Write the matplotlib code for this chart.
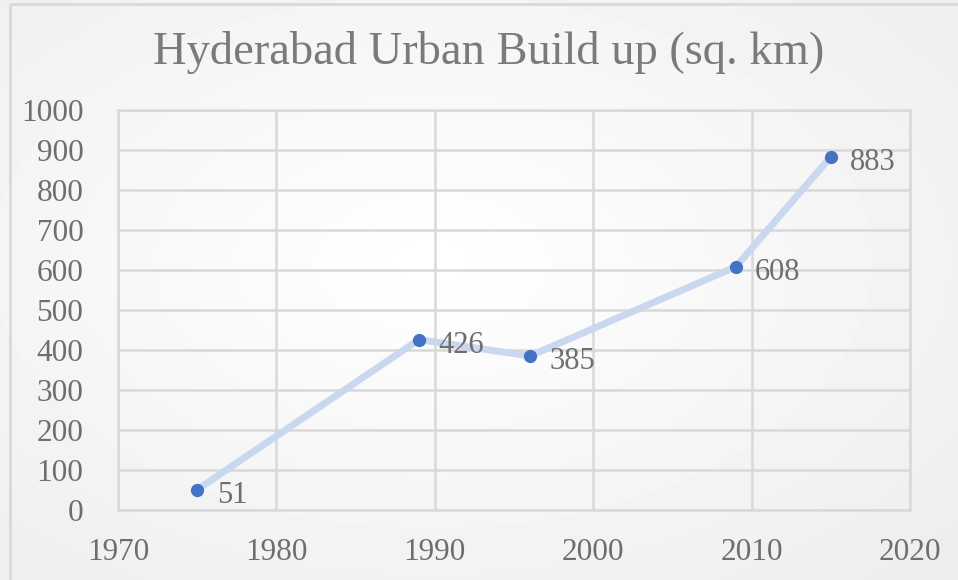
import numpy as np
import matplotlib
matplotlib.use("Agg")
import matplotlib.pyplot as plt
from matplotlib.patches import Rectangle

years = [1975, 1989, 1996, 2009, 2015]
area = [51, 426, 385, 608, 883]
title = "Hyderabad Urban Build up (sq. km)"
xticks = [1970, 1980, 1990, 2000, 2010, 2020]
yticks = list(range(0, 1001, 100))

W, H = 958, 580
fig = plt.figure(figsize=(W / 100, H / 100), dpi=100)
plt.rcParams['font.family'] = ['Liberation Serif', 'DejaVu Serif']

# radial gradient background
bg = fig.add_axes([0, 0, 1, 1], zorder=-10)
yy, xx = np.mgrid[0:H, 0:W]
cx, cy = W * 0.45, H * 0.45
r = np.sqrt(((xx - cx) / (W * 0.75)) ** 2 + ((yy - cy) / (H * 0.75)) ** 2)
val = 1.0 - 0.07 * np.clip(r, 0, 1)
bg.imshow(val, cmap='gray', vmin=0, vmax=1, aspect='auto', extent=[0, W, H, 0])
bg.set_xlim(0, W)
bg.set_ylim(H, 0)
bg.axis('off')
bg.add_patch(Rectangle((10, 4), W, H, fill=False, edgecolor='#d9d9d9', lw=2))

ax = fig.add_axes([118 / W, 1 - 510 / H, (910 - 118) / W, (510 - 110) / H])
ax.patch.set_alpha(0)
ax.set_xlim(1970, 2020)
ax.set_ylim(0, 1000)
ax.set_xticks(xticks)
ax.set_yticks(yticks)
ax.grid(True, color='#d9d9d9', lw=1.8)
ax.set_axisbelow(True)
for s in ax.spines.values():
    s.set_color('#d9d9d9')
    s.set_linewidth(1.8)
ax.tick_params(length=0, labelsize=22.5, labelcolor='#6e6e6e')
ax.tick_params(axis='y', pad=25)
ax.tick_params(axis='x', pad=20)

ax.plot(years, area, color='#c9d7ef', lw=5, solid_capstyle='round', zorder=2)
ax.plot(years, area, 'o', color='#4472c4', ms=8.5, zorder=3)
for x, y in zip(years, area):
    ax.annotate(str(y), (x, y), xytext=(14, -4), textcoords='offset points',
                ha='left', va='center', fontsize=22, color='#6e6e6e')

fig.text(489 / W, 1 - 53 / H, title, ha='center', va='center',
         fontsize=33.5, color='#7a7a7a')

fig.savefig('out.png', dpi=100)
